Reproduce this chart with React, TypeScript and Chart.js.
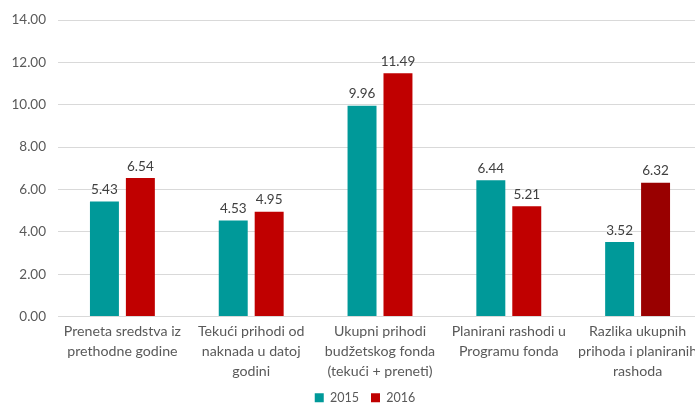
import React, { useEffect, useRef } from "react";
import { Chart, registerables } from "chart.js";

Chart.register(...registerables);

const categories: string[][] = [
  ["Preneta sredstva iz", "prethodne godine"],
  ["Tekući prihodi od", "naknada u datoj", "godini"],
  ["Ukupni prihodi", "budžetskog fonda", "(tekući + preneti)"],
  ["Planirani rashodi u", "Programu fonda"],
  ["Razlika ukupnih", "prihoda i planiranih", "rashoda"],
];
const series2015: number[] = [5.43, 4.53, 9.96, 6.44, 3.52];
const series2016: number[] = [6.54, 4.95, 11.49, 5.21, 6.32];
const colors2016: string[] = ["#C00000", "#C00000", "#C00000", "#C00000", "#990000"];
const yTicks: number[] = [0, 2, 4, 6, 8, 10, 12, 14];

const FONT = "Lato, 'Open Sans', sans-serif";

const dataLabels = {
  id: "dataLabels",
  afterDatasetsDraw(chart: any) {
    const ctx = chart.ctx;
    ctx.save();
    ctx.font = `13.5px ${FONT}`;
    ctx.fillStyle = "#404040";
    ctx.textAlign = "center";
    ctx.textBaseline = "bottom";
    chart.data.datasets.forEach((ds: any, i: number) => {
      const meta = chart.getDatasetMeta(i);
      meta.data.forEach((bar: any, j: number) => {
        ctx.fillText(Number(ds.data[j]).toFixed(2), bar.x, bar.y - 5);
      });
    });
    ctx.restore();
  },
};

const legendShift = {
  id: "legendShift",
  afterLayout(chart: any) {
    const l = chart.legend;
    if (l) {
      l.left += 14;
      l.right += 14;
    }
  },
};

export default function App() {
  const ref = useRef<HTMLCanvasElement>(null);
  useEffect(() => {
    if (!ref.current) return;
    const chart = new Chart(ref.current, {
      type: "bar",
      data: {
        labels: categories,
        datasets: [
          { label: "2015", data: series2015, backgroundColor: "#009999" },
          { label: "2016", data: series2016, backgroundColor: colors2016 },
        ],
      },
      options: {
        responsive: false,
        animation: false,
        devicePixelRatio: 1,
        layout: { padding: { top: 14, right: 24, left: 0, bottom: -11 } },
        datasets: {
          bar: { categoryPercentage: 0.558, barPercentage: 0.806 },
        } as any,
        scales: {
          x: {
            grid: { display: false, drawTicks: false },
            border: { display: true, color: "#D9D9D9", width: 1 },
            ticks: {
              color: "#595959",
              font: { family: FONT, size: 14.2, lineHeight: 1.41 },
              maxRotation: 0,
              minRotation: 0,
              autoSkip: false,
              padding: 5,
            },
            afterFit: (s: any) => {
              s.height = 63;
            },
          },
          y: {
            min: 0,
            max: 14,
            afterBuildTicks: (s: any) => {
              s.ticks = yTicks.map((v) => ({ value: v }));
            },
            grid: { color: "#D9D9D9", drawTicks: false, lineWidth: 1 },
            border: { display: false },
            ticks: {
              color: "#595959",
              font: { family: FONT, size: 13.5 },
              padding: 12,
              callback: (v: any) => Number(v).toFixed(2),
            },
            afterFit: (s: any) => {
              s.width = 58;
            },
          },
        },
        plugins: {
          legend: {
            position: "bottom",
            labels: {
              boxWidth: 9,
              boxHeight: 9,
              padding: 12,
              color: "#595959",
              font: { family: FONT, size: 12.5 },
            },
          },
          tooltip: { enabled: false },
        },
      },
      plugins: [dataLabels, legendShift],
    });
    return () => chart.destroy();
  }, []);
  return (
    <div
      style={{
        position: "fixed",
        left: 0,
        top: 0,
        width: 695,
        height: 403,
        overflow: "hidden",
        background: "#fff",
      }}
    >
      <canvas ref={ref} width={726} height={403} style={{ display: "block" }} />
    </div>
  );
}
